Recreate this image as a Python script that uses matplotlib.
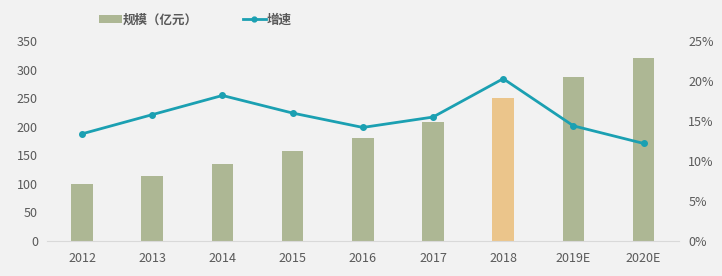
import matplotlib
matplotlib.use("Agg")
import matplotlib.pyplot as plt
from matplotlib.ticker import FuncFormatter
from matplotlib.patches import Patch
from matplotlib.lines import Line2D

plt.rcParams['font.family'] = ['Noto Sans CJK SC', 'DejaVu Sans']

years = ["2012", "2013", "2014", "2015", "2016", "2017", "2018", "2019E", "2020E"]
scale = [100, 114, 135, 157, 180, 208, 251, 287, 321]
growth = [13.4, 15.8, 18.2, 16.0, 14.2, 15.5, 20.3, 14.4, 12.2]
highlight = "2018"

bg = "#f2f2f2"
green = "#adb794"
orange = "#ebc58b"
teal = "#1ba0b2"
txt = "#595959"

fig = plt.figure(figsize=(7.22, 2.76), dpi=100, facecolor=bg)
ax = fig.add_axes([0.065, 0.127, 0.875, 0.724])
ax.set_facecolor(bg)
x = list(range(len(years)))
colors = [orange if y == highlight else green for y in years]
ax.bar(x, scale, width=0.31, color=colors, zorder=2)
ax.set_xlim(-0.5, len(years) - 0.5)
ax.set_ylim(0, 350)
ax.set_yticks(range(0, 351, 50))
ax.set_xticks(x)
ax.set_xticklabels(years)
for s in ["top", "right", "left"]:
    ax.spines[s].set_visible(False)
ax.spines["bottom"].set_color("#d9d9d9")
ax.tick_params(axis="both", length=0, colors=txt, labelsize=9)
ax.tick_params(axis="y", pad=6.5)
ax.tick_params(axis="x", pad=8)

ax2 = ax.twinx()
ax2.plot(x, growth, color=teal, lw=2, marker="o", ms=4, zorder=3)
ax2.set_ylim(0, 25)
ax2.set_yticks(range(0, 26, 5))
ax2.yaxis.set_major_formatter(FuncFormatter(lambda v, p: f"{int(v)}%"))
for s in ["top", "right", "left", "bottom"]:
    ax2.spines[s].set_visible(False)
ax2.tick_params(axis="y", length=0, colors=txt, labelsize=9, pad=7)

handles = [Patch(facecolor=green, edgecolor="none"),
           Line2D([0], [0], color=teal, lw=2, marker="o", ms=3.5)]
leg = fig.legend(handles, ["规模（亿元）", "增速"], loc="center left",
                 bbox_to_anchor=(99 / 722, 1 - 20 / 276), ncol=2, frameon=False,
                 prop={"size": 9, "weight": "bold"}, labelcolor=txt,
                 handlelength=1.85, handletextpad=0.05, columnspacing=3.6,
                 handleheight=0.55, borderpad=0, borderaxespad=0)

fig.savefig("out.png", dpi=100, facecolor=bg)
